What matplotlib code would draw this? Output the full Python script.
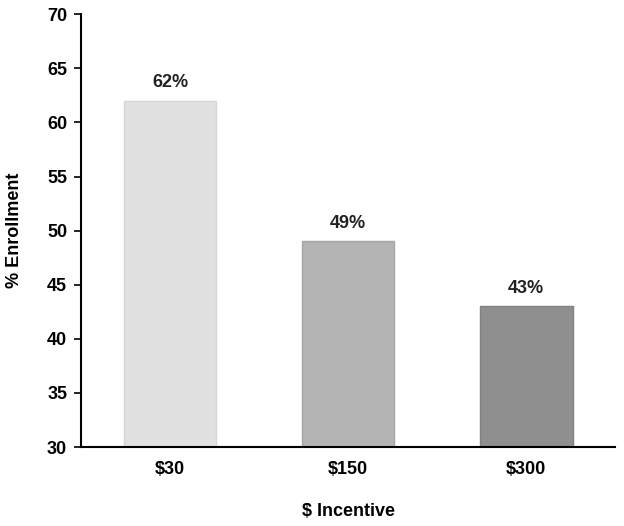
import matplotlib.pyplot as plt

plt.rcParams['font.family'] = ['Liberation Sans', 'DejaVu Sans']
plt.rcParams['font.weight'] = 'bold'

categories = ['$30', '$150', '$300']
enrollment = [62, 49, 43]
bar_colors = ['#e1e1e1', '#b4b4b4', '#8f8f8f']
edge_colors = ['#d6d6d6', '#a5a5a5', '#828282']

fig = plt.figure(figsize=(6.24, 5.26), dpi=100)
ax = fig.add_axes([0.130, 0.150, 0.856, 0.823])

x = range(len(categories))
bars = ax.bar(x, [v - 30 for v in enrollment], bottom=30, width=0.52,
              color=bar_colors, edgecolor=edge_colors, linewidth=1)

for xi, v in zip(x, enrollment):
    ax.text(xi, v + 0.9, f'{v}%', ha='center', va='bottom',
            fontsize=13, fontweight='bold', color='#222222')

ax.set_xlim(-0.5, 2.5)
ax.set_ylim(30, 70)
ax.set_yticks(range(30, 71, 5))
ax.set_xticks(list(x))
ax.set_xticklabels(categories)

for s in ['top', 'right']:
    ax.spines[s].set_visible(False)
ax.spines['left'].set_linewidth(1.5)
ax.spines['bottom'].set_linewidth(1.5)

ax.tick_params(axis='y', length=5, width=1.2, labelsize=13, pad=5)
ax.tick_params(axis='x', length=0, labelsize=13, pad=10)

ax.set_ylabel('% Enrollment', fontsize=13, fontweight='bold', labelpad=17)
ax.set_xlabel('$ Incentive', fontsize=13, fontweight='bold', labelpad=18)

plt.savefig('out.png', dpi=100)
